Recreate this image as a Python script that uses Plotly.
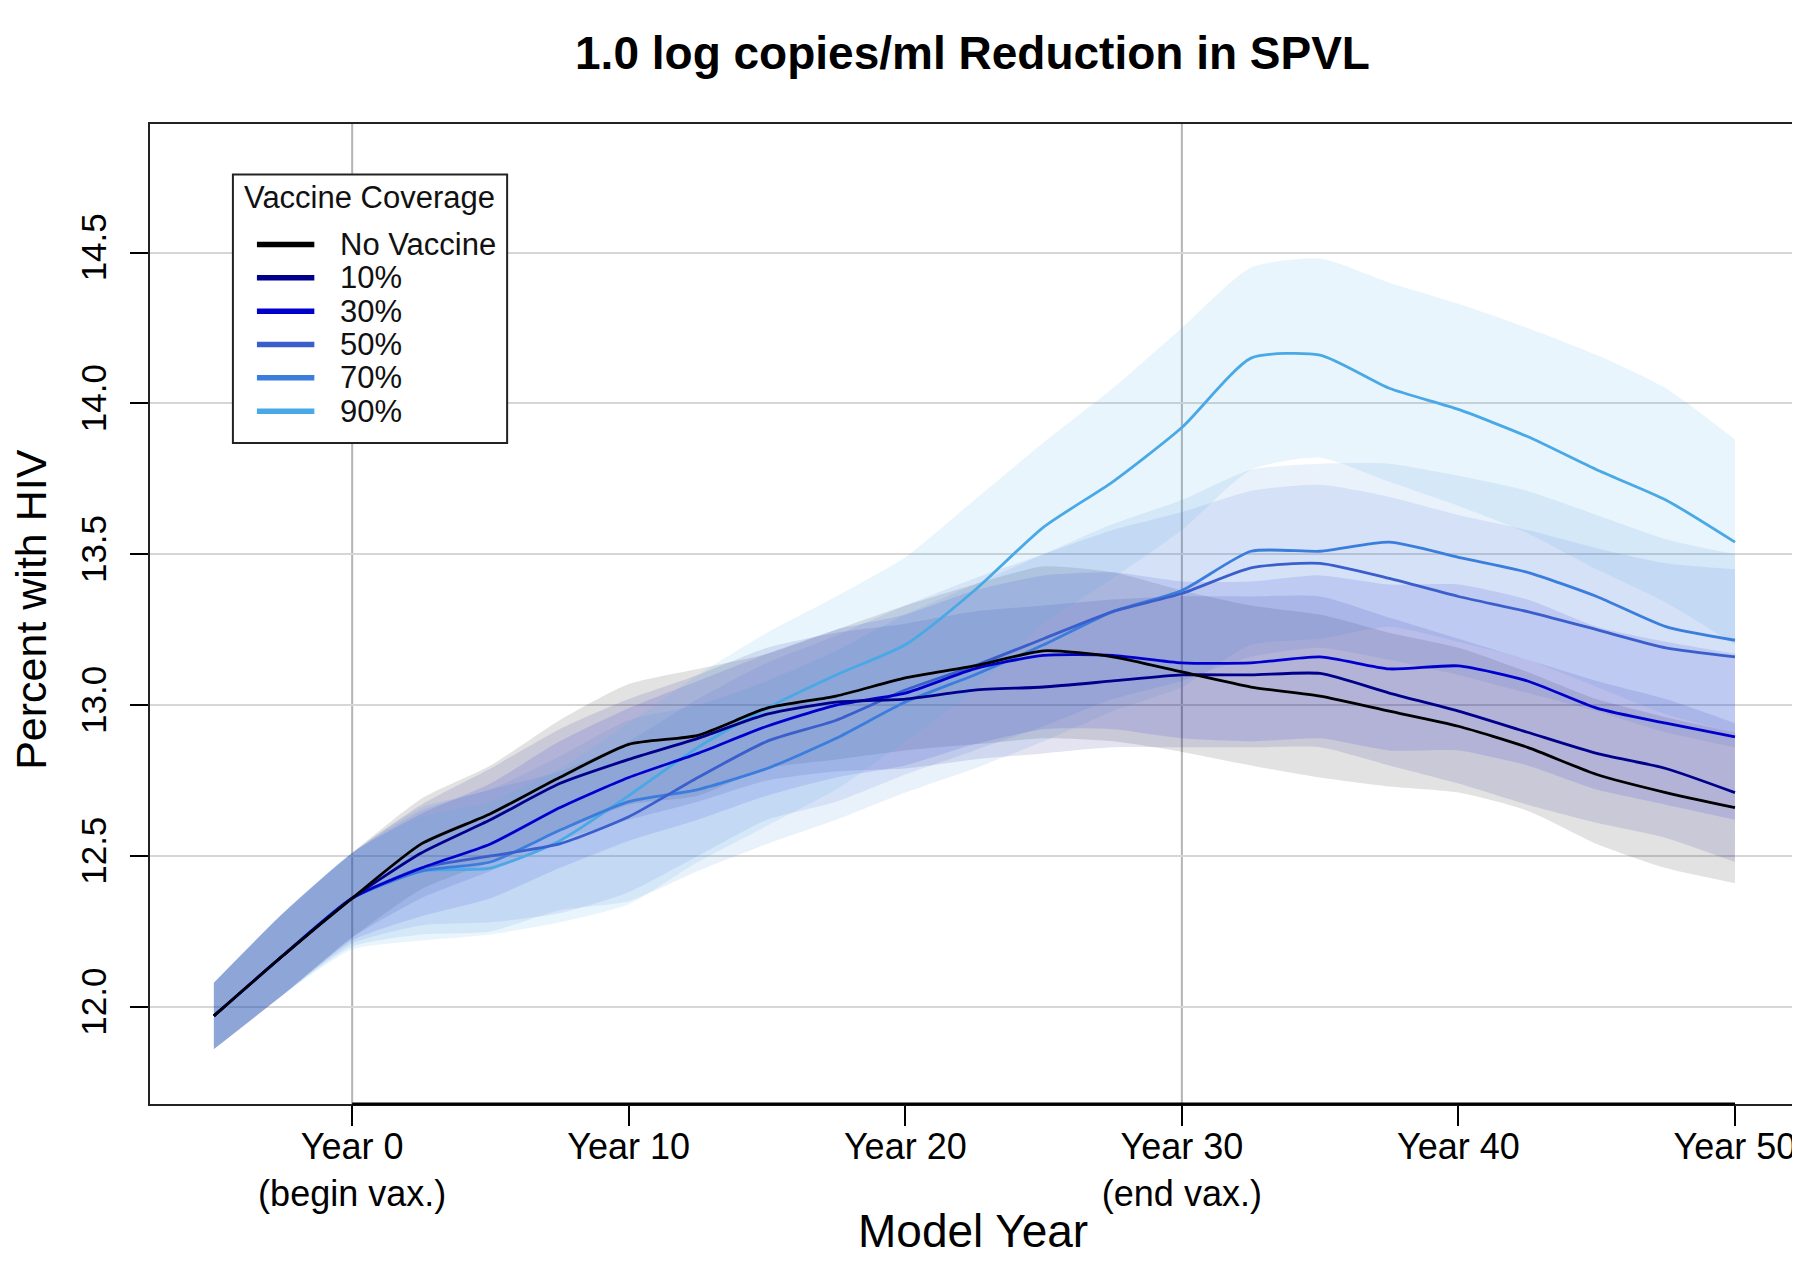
import plotly.graph_objects as go

# ---------------- data ----------------
years = [-5, -2.5, 0, 2.5, 5, 7.5, 10, 12.5, 15, 17.5, 20, 22.5, 25,
         27.5, 30, 32.5, 35, 37.5, 40, 42.5, 45, 47.5, 50]

series_names = ["No Vaccine", "10%", "30%", "50%", "70%", "90%"]

no_vax_mean = [11.97, 12.17, 12.36, 12.54, 12.64, 12.76, 12.87, 12.90, 12.99, 13.03, 13.09, 13.13, 13.18,
               13.16, 13.11, 13.06, 13.03, 12.98, 12.93, 12.86, 12.77, 12.71, 12.66]
no_vax_upper = [12.08, 12.31, 12.51, 12.69, 12.80, 12.95, 13.07, 13.12, 13.17, 13.25, 13.33, 13.40, 13.46,
                13.44, 13.38, 13.33, 13.30, 13.24, 13.19, 13.11, 13.02, 12.96, 12.91]
no_vax_lower = [11.86, 12.04, 12.23, 12.39, 12.48, 12.58, 12.67, 12.70, 12.79, 12.82, 12.85, 12.87, 12.89,
                12.88, 12.845, 12.80, 12.76, 12.73, 12.71, 12.65, 12.54, 12.46, 12.41]

cov10_mean = [11.97, 12.17, 12.36, 12.51, 12.62, 12.74, 12.82, 12.89, 12.97, 13.01, 13.02, 13.05, 13.06,
              13.08, 13.10, 13.10, 13.105, 13.04, 12.98, 12.91, 12.84, 12.79, 12.71]
cov10_upper = [12.08, 12.31, 12.51, 12.67, 12.79, 12.92, 13.02, 13.10, 13.19, 13.24, 13.27, 13.31, 13.33,
               13.35, 13.36, 13.36, 13.36, 13.29, 13.22, 13.15, 13.08, 13.02, 12.94]
cov10_lower = [11.86, 12.04, 12.23, 12.36, 12.45, 12.55, 12.62, 12.68, 12.75, 12.78, 12.79, 12.82, 12.84,
               12.86, 12.86, 12.86, 12.86, 12.80, 12.74, 12.67, 12.61, 12.56, 12.48]

cov30_mean = [11.97, 12.17, 12.36, 12.46, 12.54, 12.66, 12.76, 12.84, 12.93, 13.00, 13.04, 13.12, 13.165,
              13.165, 13.14, 13.14, 13.16, 13.12, 13.13, 13.08, 12.99, 12.94, 12.895]
cov30_upper = [12.08, 12.31, 12.51, 12.64, 12.74, 12.88, 12.99, 13.08, 13.17, 13.25, 13.30, 13.38, 13.43,
               13.44, 13.41, 13.41, 13.43, 13.40, 13.40, 13.35, 13.26, 13.21, 13.17]
cov30_lower = [11.86, 12.04, 12.22, 12.30, 12.36, 12.46, 12.55, 12.62, 12.70, 12.76, 12.80, 12.87, 12.92,
               12.92, 12.89, 12.88, 12.89, 12.85, 12.85, 12.80, 12.72, 12.67, 12.62]

cov50_mean = [11.97, 12.17, 12.36, 12.46, 12.50, 12.54, 12.63, 12.76, 12.88, 12.95, 13.05, 13.13, 13.22,
              13.31, 13.37, 13.455, 13.47, 13.42, 13.36, 13.31, 13.25, 13.19, 13.16]
cov50_upper = [12.08, 12.31, 12.51, 12.65, 12.72, 12.78, 12.88, 13.02, 13.14, 13.23, 13.33, 13.42, 13.50,
               13.58, 13.64, 13.71, 13.73, 13.69, 13.63, 13.58, 13.52, 13.47, 13.45]
cov50_lower = [11.86, 12.04, 12.21, 12.27, 12.28, 12.31, 12.38, 12.50, 12.62, 12.68, 12.77, 12.85, 12.93,
               13.02, 13.08, 13.16, 13.19, 13.15, 13.10, 13.04, 12.98, 12.91, 12.86]

cov70_mean = [11.97, 12.17, 12.36, 12.45, 12.48, 12.585, 12.68, 12.72, 12.79, 12.89, 13.01, 13.10, 13.20,
              13.31, 13.38, 13.51, 13.51, 13.54, 13.49, 13.44, 13.36, 13.26, 13.215]
cov70_upper = [12.08, 12.31, 12.51, 12.66, 12.72, 12.83, 12.95, 13.00, 13.08, 13.18, 13.30, 13.40, 13.50,
               13.60, 13.68, 13.78, 13.80, 13.80, 13.76, 13.71, 13.63, 13.55, 13.50]
cov70_lower = [11.86, 12.04, 12.20, 12.24, 12.25, 12.32, 12.35, 12.45, 12.54, 12.62, 12.71, 12.79, 12.88,
               12.98, 13.06, 13.20, 13.22, 13.26, 13.21, 13.15, 13.06, 12.97, 12.91]

cov90_mean = [11.97, 12.17, 12.36, 12.45, 12.46, 12.55, 12.70, 12.86, 12.99, 13.10, 13.20, 13.38, 13.59,
              13.74, 13.92, 14.15, 14.16, 14.05, 13.98, 13.89, 13.78, 13.68, 13.54]
cov90_upper = [12.08, 12.31, 12.51, 12.63, 12.68, 12.79, 12.94, 13.10, 13.24, 13.36, 13.49, 13.68, 13.87,
               14.05, 14.25, 14.45, 14.48, 14.40, 14.33, 14.25, 14.16, 14.05, 13.88]
cov90_lower = [11.86, 12.04, 12.19, 12.22, 12.24, 12.28, 12.34, 12.48, 12.60, 12.72, 12.88, 13.05, 13.27,
               13.42, 13.58, 13.78, 13.82, 13.74, 13.66, 13.57, 13.45, 13.34, 13.20]

x_tick_vals = [0, 10, 20, 30, 40, 50]
x_tick_text = ["Year 0<br>(begin vax.)", "Year 10", "Year 20", "Year 30<br>(end vax.)", "Year 40", "Year 50"]
y_tick_vals = [12.0, 12.5, 13.0, 13.5, 14.0, 14.5]
vax_markers = [0, 30]

# ---------------- styles ----------------
means = [no_vax_mean, cov10_mean, cov30_mean, cov50_mean, cov70_mean, cov90_mean]
uppers = [no_vax_upper, cov10_upper, cov30_upper, cov50_upper, cov70_upper, cov90_upper]
lowers = [no_vax_lower, cov10_lower, cov30_lower, cov50_lower, cov70_lower, cov90_lower]
line_colors = ["#000000", "#00008B", "#0000CD", "#3A5FCD", "#3B7DDD", "#48A9E6"]
band_colors = ["rgba(0,0,0,0.115)", "rgba(0,0,139,0.11)", "rgba(0,0,205,0.11)",
               "rgba(58,95,205,0.11)", "rgba(59,125,221,0.11)", "rgba(72,169,230,0.12)"]
FONT = "Liberation Sans, Arial, sans-serif"
SMOOTH = dict(shape="spline", smoothing=0.6)

fig = go.Figure()

# bands: lower edge then upper edge filled down to it
for up, lo, bc in zip(uppers, lowers, band_colors):
    fig.add_trace(go.Scatter(x=years, y=lo, mode="lines", line=dict(width=0, **SMOOTH),
                             hoverinfo="skip", showlegend=False))
    fig.add_trace(go.Scatter(x=years, y=up, mode="lines", fill="tonexty", fillcolor=bc,
                             line=dict(width=0, **SMOOTH), hoverinfo="skip", showlegend=False))

# lines (black on top)
order = [5, 4, 3, 2, 1, 0]
for i in order:
    fig.add_trace(go.Scatter(
        x=years, y=means[i], mode="lines", name=series_names[i],
        line=dict(color=line_colors[i], width=2.8, **SMOOTH), showlegend=False))

shapes = []
for v in vax_markers:
    shapes.append(dict(type="line", xref="x", yref="paper", x0=v, x1=v, y0=0, y1=1,
                       line=dict(color="#B4B4B4", width=2), layer="below"))
# R-style x-axis segment
shapes.append(dict(type="line", xref="x", yref="paper", x0=x_tick_vals[0], x1=x_tick_vals[-1],
                   y0=0, y1=0, line=dict(color="#000000", width=3)))

# manual legend (paper coordinates)
leg_x0, leg_x1, leg_y0, leg_y1 = 0.0504, 0.2171, 0.6745, 0.9485
shapes.append(dict(type="rect", xref="paper", yref="paper", x0=leg_x0, x1=leg_x1, y0=leg_y0, y1=leg_y1,
                   line=dict(color="#222222", width=2), fillcolor="white", layer="above"))
annotations = [dict(text="Vaccine Coverage", xref="paper", yref="paper", x=0.1333, y=0.925,
                    xanchor="center", yanchor="middle", showarrow=False,
                    font=dict(family=FONT, size=31, color="#111111"))]
row_y = [0.877, 0.843, 0.809, 0.775, 0.741, 0.707]
for name, col, ry in zip(series_names, line_colors, row_y):
    shapes.append(dict(type="line", xref="paper", yref="paper", x0=0.065, x1=0.0999, y0=ry, y1=ry,
                       line=dict(color=col, width=5.5), layer="above"))
    annotations.append(dict(text=name, xref="paper", yref="paper", x=0.1145, y=ry,
                            xanchor="left", yanchor="middle", showarrow=False,
                            font=dict(family=FONT, size=31, color="#111111")))

# axis titles
annotations.append(dict(text="Percent with HIV", xref="paper", yref="paper", x=-0.0725, y=0.505,
                        xanchor="center", yanchor="middle", textangle=-90, showarrow=False,
                        font=dict(family=FONT, size=43, color="#000000")))
annotations.append(dict(text="Model Year", xref="paper", yref="paper", x=0.5, y=-0.1293,
                        xanchor="center", yanchor="middle", showarrow=False,
                        font=dict(family=FONT, size=46, color="#000000")))

# page has an 8px body margin: figure is offset so the plot lands where the reference has it
fig.update_layout(
    width=1792, height=1273,
    margin=dict(l=142, r=3, t=116, b=177),
    paper_bgcolor="white", plot_bgcolor="white",
    title=dict(text="<b>1.0 log copies/ml Reduction in SPVL</b>", x=0.5, xref="paper",
               y=1 - 45 / 1273, yref="container", xanchor="center", yanchor="middle",
               font=dict(family=FONT, size=46, color="#000000")),
    shapes=shapes, annotations=annotations,
    showlegend=False,
    xaxis=dict(range=[-7.31, 52.17], tickvals=x_tick_vals, ticktext=x_tick_text,
               showgrid=False, zeroline=False, showline=True, mirror=True,
               linecolor="#222222", linewidth=2, ticks="outside", ticklen=20, tickwidth=2,
               tickcolor="#000000", ticklabelstandoff=-10,
               tickfont=dict(family=FONT, size=36, color="#000000")),
    yaxis=dict(range=[11.678, 14.926], tickvals=y_tick_vals, tickformat=".1f",
               showgrid=True, gridcolor="#D6D6D6", gridwidth=1.6, zeroline=False,
               showline=True, mirror=True, linecolor="#222222", linewidth=2,
               ticks="outside", ticklen=18, tickwidth=2, tickcolor="#000000",
               ticklabelstandoff=10,
               tickangle=-90, tickfont=dict(family=FONT, size=35, color="#000000")),
)

fig.write_html("out.html")
